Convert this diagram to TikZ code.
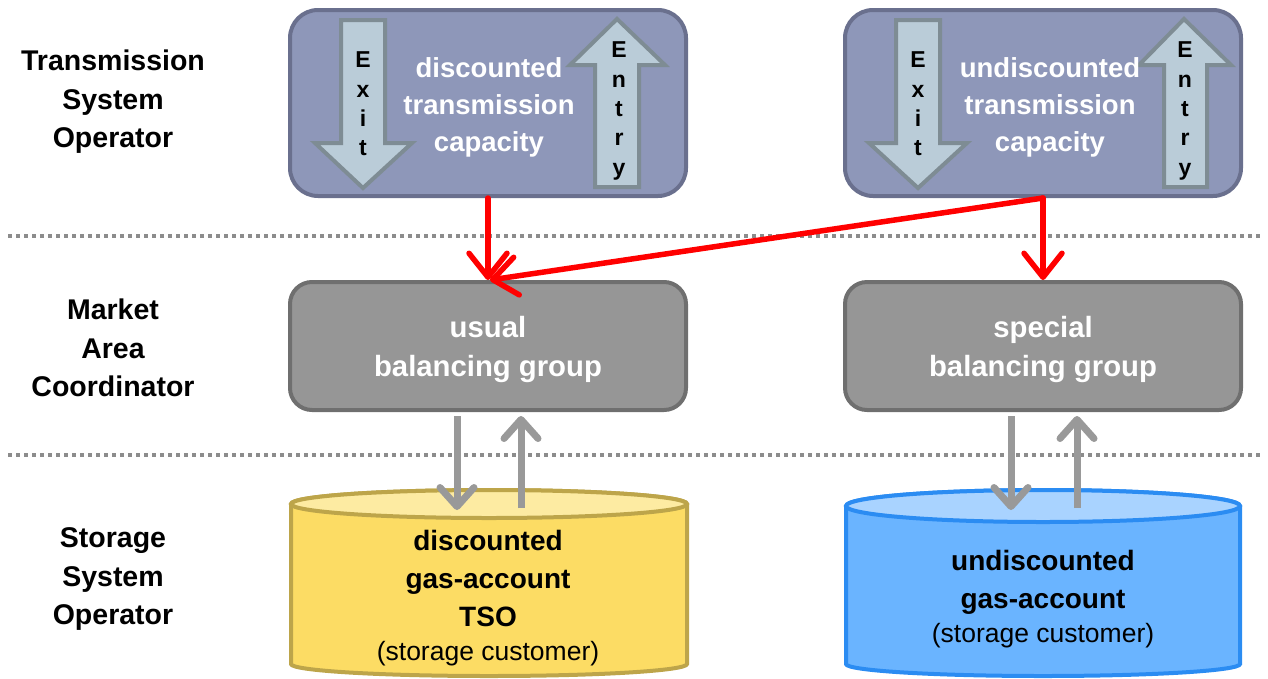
\documentclass[tikz,border=0pt]{standalone}
\usepackage{fontspec}
\setmainfont{Liberation Sans}
\usetikzlibrary{arrows.meta,shapes.geometric}
\definecolor{tsofill}{RGB}{142,151,185}
\definecolor{tsoline}{RGB}{106,112,142}
\definecolor{arrfill}{RGB}{186,204,216}
\definecolor{arrline}{RGB}{126,140,148}
\definecolor{macfill}{RGB}{150,150,150}
\definecolor{macline}{RGB}{111,111,111}
\definecolor{yelfill}{RGB}{252,220,100}
\definecolor{yeltop}{RGB}{253,235,162}
\definecolor{yelline}{RGB}{189,165,74}
\definecolor{bluefill}{RGB}{106,180,255}
\definecolor{bluetop}{RGB}{169,211,255}
\definecolor{blueline}{RGB}{43,140,242}
\definecolor{garr}{RGB}{153,153,153}
\definecolor{dotc}{RGB}{140,140,140}
\tikzset{
  tsobox/.style={draw=tsoline, fill=tsofill, line width=4pt, rounded corners=28pt, minimum width=396pt, minimum height=186pt},
  macbox/.style={draw=macline, fill=macfill, line width=4pt, rounded corners=22pt, minimum width=396pt, minimum height=128pt},
  bigarrow/.style={draw=arrline, fill=arrfill, line width=4pt, line join=miter},
  whitetxt/.style={text=white, align=center, font=\fontsize{27.5}{37}\selectfont\bfseries},
  mactxt/.style={text=white, align=center, font=\fontsize{29.3}{39}\selectfont\bfseries},
  lbl/.style={text=black, align=center, font=\fontsize{28.5}{38.5}\selectfont\bfseries},
  lettxt/.style={text=black, align=center, font=\fontsize{23}{29.3}\selectfont\bfseries, inner sep=0pt},
  redarr/.style={draw=red, line width=5.5pt, line cap=round, -{Straight Barb[length=24pt,width=38pt,round]}},
  grayarr/.style={draw=garr, line width=7pt, -{Straight Barb[length=19pt,width=34pt,round]}},
  dotline/.style={draw=dotc, line width=4pt, dash pattern=on 4pt off 4pt},
  cyltxt/.style={text=black, align=center, font=\fontsize{28}{38}\selectfont\bfseries}
}
\begin{document}
\begin{tikzpicture}[x=1pt,y=-1pt]
\useasboundingbox (0,0) rectangle (1268,678);
% dotted separators
\coordinate (d1a) at (8,236); \coordinate (d1b) at (1262,236);
\coordinate (d2a) at (8,455); \coordinate (d2b) at (1262,455);
\draw[dotline] (d1a) -- (d1b);
\draw[dotline] (d2a) -- (d2b);
% left labels
\node[lbl] (l1) at (113,102) {Transmission\\System\\Operator};
\node[lbl] (l2) at (113,348) {Market\\Area\\Coordinator};
\node[lbl] (l3) at (113,579) {Storage\\System\\Operator};
% TSO boxes
\node[tsobox] (tsoL) at (488,103) {};
\node[tsobox] (tsoR) at (1043,103) {};
% exit / entry arrows left
\draw[bigarrow] (341,20) -- (385,20) -- (385,143) -- (412,143) -- (363,188) -- (315,143) -- (341,143) -- cycle;
\draw[bigarrow] (595,187) -- (639,187) -- (639,65) -- (665,65) -- (617,19) -- (570,65) -- (595,65) -- cycle;
% exit / entry arrows right
\draw[bigarrow] (896,20) -- (940,20) -- (940,143) -- (967,143) -- (918,188) -- (869,143) -- (896,143) -- cycle;
\draw[bigarrow] (1164,187) -- (1207,187) -- (1207,65) -- (1231,65) -- (1184,19) -- (1139,65) -- (1164,65) -- cycle;
\node[lettxt] (exL) at (363,104) {E\\x\\i\\t};
\node[lettxt] (enL) at (619,111) {E\\n\\t\\r\\y};
\node[lettxt] (exR) at (918,104) {E\\x\\i\\t};
\node[lettxt] (enR) at (1185,111) {E\\n\\t\\r\\y};
\node[whitetxt] (tL) at (489,107) {discounted\\transmission\\capacity};
\node[whitetxt] (tR) at (1050,107) {undiscounted\\transmission\\capacity};
% MAC boxes
\node[macbox] (macL) at (488,346) {};
\node[macbox] (macR) at (1043,346) {};
\node[mactxt] (mL) at (488,349) {usual\\balancing group};
\node[mactxt] (mR) at (1043,349) {special\\balancing group};
% cylinders
\draw[draw=yelline, fill=yelfill, line width=4pt] (291,504) -- (291,664) arc[start angle=180, end angle=360, x radius=198pt, y radius=12pt] -- (687,504) arc[start angle=0, end angle=180, x radius=198pt, y radius=14pt] -- cycle;
\node[draw=yelline, fill=yeltop, line width=4pt, ellipse, minimum width=396pt, minimum height=28pt, inner sep=0pt] (cylL) at (489,504) {};
\draw[draw=blueline, fill=bluefill, line width=4pt] (846,506) -- (846,664) arc[start angle=180, end angle=360, x radius=197pt, y radius=12pt] -- (1240,506) arc[start angle=0, end angle=180, x radius=197pt, y radius=16pt] -- cycle;
\node[draw=blueline, fill=bluetop, line width=4pt, ellipse, minimum width=394pt, minimum height=32pt, inner sep=0pt] (cylR) at (1043,506) {};
\node[cyltxt] (cL) at (488,598) {discounted\\gas-account\\TSO\\[-4pt]{\mdseries\fontsize{26.5}{38}\selectfont (storage customer)}};
\node[cyltxt] (cR) at (1043,599) {undiscounted\\gas-account\\[-4pt]{\mdseries\fontsize{26.5}{38}\selectfont (storage customer)}};
% red arrows
\draw[redarr] (tsoL.south) -- (macL.north);
\coordinate (rs) at (tsoR.south);
\draw[redarr] (rs) -- (macR.north);
\draw[redarr] (rs) -- ([xshift=2pt]macL.north);
% gray arrows
\draw[grayarr] ([xshift=-31pt,yshift=-4pt]macL.south) -- ([xshift=-32pt,yshift=-6pt]cylL.center);
\draw[grayarr] ([xshift=32pt,yshift=-4pt]cylL.center) -- ([xshift=33pt,yshift=-4pt]macL.south);
\draw[grayarr] ([xshift=-32pt,yshift=-4pt]macR.south) -- ([xshift=-32pt,yshift=-4pt]cylR.center);
\draw[grayarr] ([xshift=34pt,yshift=-2pt]cylR.center) -- ([xshift=34pt,yshift=-4pt]macR.south);
\end{tikzpicture}
\end{document}
